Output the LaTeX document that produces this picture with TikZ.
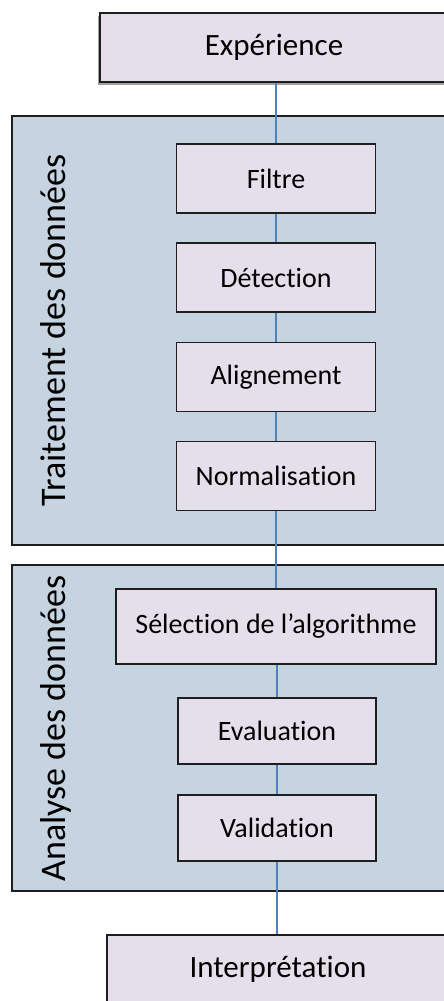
\documentclass[tikz,border=0pt]{standalone}
\usepackage{fontspec}
\setmainfont{Carlito}[Ligatures=NoCommon]
\definecolor{boxfill}{HTML}{E5DFEC}
\definecolor{panelfill}{HTML}{C6D3E1}
\definecolor{linkblue}{HTML}{4F81BD}
\definecolor{edge}{HTML}{1E1E1E}
\definecolor{shadowgray}{HTML}{A0A0A0}
\tikzset{
  stepbox/.style={draw=edge, line width=1.5pt, fill=boxfill, inner sep=0pt,
    font=\fontsize{28}{34}\selectfont},
  endbox/.style={stepbox, font=\fontsize{31}{37}\selectfont},
  panel/.style={draw=edge, line width=1.5pt, fill=panelfill},
  paneltitle/.style={rotate=90, anchor=base, inner sep=0pt,
    font=\fontsize{36}{42}\selectfont},
  link/.style={draw=linkblue, line width=2pt}
}
\begin{document}
\begin{tikzpicture}[x=1pt,y=-1pt]
\useasboundingbox (0,0) rectangle (444,1001);
\clip (0,0) rectangle (444,1001);
% panels
\path[panel] (12,116) rectangle (470,545);
\path[panel] (12,565) rectangle (470,891);
\node[paneltitle] (t1) at (65,330.5) {Traitement des données};
\node[paneltitle] (t2) at (65,728.5) {Analyse des données};
% shadow of the top box
\fill[shadowgray] (97.5,16) rectangle (446,85);
% boxes
\node[endbox, minimum width=348pt, minimum height=69pt] (exp) at (274,47.5) {Expérience};
\node[stepbox, minimum width=199pt, minimum height=69pt] (fil) at (276,178.5) {Filtre};
\node[stepbox, minimum width=199pt, minimum height=69pt] (det) at (276,277.5) {Détection};
\node[stepbox, minimum width=199pt, minimum height=69pt] (ali) at (276,377) {Alignement};
\node[stepbox, minimum width=199pt, minimum height=69pt] (nor) at (276,476) {Normalisation};
\node[stepbox, minimum width=320pt, minimum height=75pt] (sel) at (276,626.5) {Sélection de l’algorithme};
\node[stepbox, minimum width=198pt, minimum height=66pt] (eva) at (277,731) {Evaluation};
\node[stepbox, minimum width=198pt, minimum height=66pt] (val) at (277,828) {Validation};
\node[endbox, minimum width=342pt, minimum height=69pt] (int) at (278,969.5) {Interprétation};
% connectors
\draw[link] (exp.south -| fil.north) -- (fil.north);
\draw[link] (fil) -- (det);
\draw[link] (det) -- (ali);
\draw[link] (ali) -- (nor);
\draw[link] (nor) -- (nor.south |- sel.north);
\draw[link] (sel.south -| eva.north) -- (eva.north);
\draw[link] (eva) -- (val);
\draw[link] (val) -- (val.south |- int.north);
\end{tikzpicture}
\end{document}
